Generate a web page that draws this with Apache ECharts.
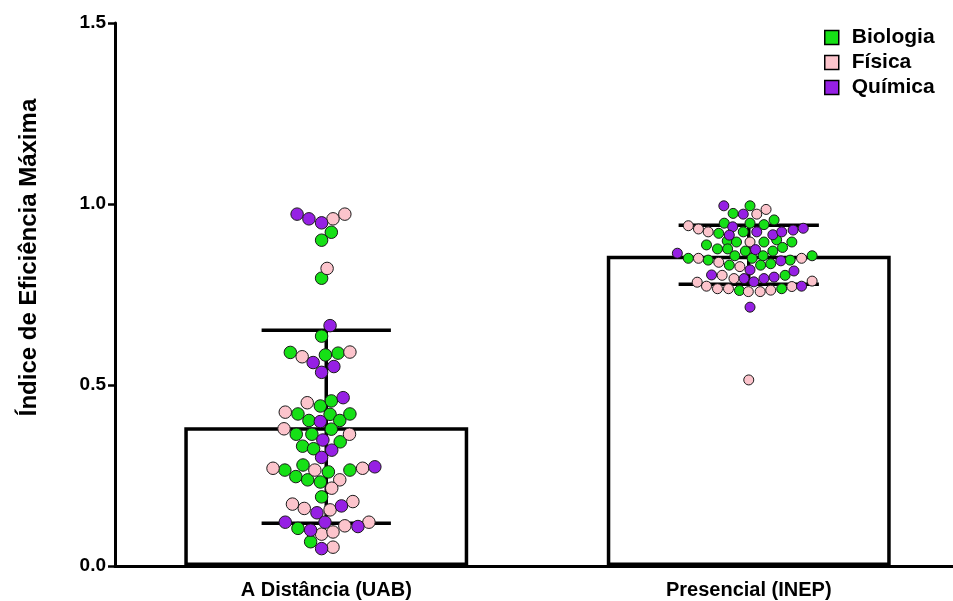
<!DOCTYPE html>
<html>
<head>
<meta charset="utf-8">
<script src="https://cdn.jsdelivr.net/npm/echarts@6/dist/echarts.min.js"></script>
<style>html,body{margin:0;padding:0;background:#fff}#c{width:953px;height:601px}</style>
</head>
<body>
<div id="c"></div>
<script>
var categories = ['A Distância (UAB)', 'Presencial (INEP)'];
var subjects = ['Biologia', 'Física', 'Química'];
var yTicks = [0, 0.5, 1.0, 1.5];
var means = [0.383, 0.857];
var lowerErr = [0.118, 0.778];
var upperErr = [0.651, 0.941];

// points: [beeswarm offset within category, value]
var distBio = [[0.012,0.922],[-0.011,0.900],[-0.011,0.795],[-0.011,0.635],[-0.085,0.590],[-0.002,0.583],[0.028,0.588],[-0.014,0.442],[0.012,0.456],[-0.067,0.420],[-0.041,0.402],[0.009,0.419],[0.032,0.402],[0.056,0.420],[-0.071,0.364],[-0.034,0.364],[0.012,0.378],[-0.056,0.331],[-0.030,0.324],[0.033,0.343],[-0.098,0.265],[-0.055,0.279],[0.005,0.260],[0.056,0.265],[-0.072,0.247],[-0.044,0.238],[-0.014,0.232],[-0.011,0.191],[-0.067,0.104],[-0.037,0.067]];
var distFis = [[0.016,0.959],[0.044,0.972],[0.002,0.822],[-0.057,0.578],[0.056,0.591],[-0.045,0.451],[-0.097,0.425],[-0.100,0.379],[0.055,0.364],[-0.126,0.270],[-0.027,0.265],[0.086,0.270],[0.032,0.238],[0.013,0.215],[-0.080,0.171],[-0.052,0.159],[0.009,0.155],[0.063,0.178],[0.044,0.111],[0.101,0.121],[-0.011,0.088],[0.016,0.094],[0.016,0.052]];
var distQui = [[-0.069,0.972],[-0.041,0.959],[-0.011,0.948],[0.009,0.664],[-0.031,0.562],[0.018,0.551],[-0.011,0.535],[0.040,0.465],[-0.014,0.399],[-0.008,0.348],[0.013,0.320],[-0.011,0.300],[0.115,0.274],[-0.022,0.147],[0.036,0.166],[-0.097,0.121],[-0.037,0.099],[-0.003,0.121],[0.075,0.109],[-0.011,0.048]];
var presBio = [[0.003,0.995],[-0.037,0.974],[-0.058,0.947],[0.003,0.947],[0.036,0.943],[0.060,0.956],[-0.071,0.919],[-0.013,0.923],[-0.051,0.898],[-0.029,0.895],[0.036,0.895],[0.066,0.901],[-0.100,0.887],[-0.074,0.876],[-0.050,0.876],[-0.008,0.870],[0.057,0.870],[0.080,0.880],[0.102,0.895],[-0.143,0.850],[-0.096,0.845],[-0.033,0.857],[0.008,0.850],[0.034,0.857],[0.150,0.857],[-0.046,0.831],[0.028,0.831],[0.052,0.835],[0.098,0.845],[0.086,0.803],[-0.022,0.761],[0.078,0.766]];
var presFis = [[0.019,0.972],[0.041,0.985],[-0.143,0.940],[-0.119,0.931],[-0.096,0.923],[0.003,0.895],[-0.119,0.850],[0.125,0.850],[-0.071,0.839],[-0.021,0.827],[-0.063,0.803],[-0.035,0.794],[-0.122,0.784],[-0.100,0.773],[-0.074,0.766],[-0.048,0.766],[-0.001,0.758],[0.027,0.758],[0.052,0.762],[0.102,0.772],[0.150,0.787],[0.000,0.514]];
var presQui = [[-0.059,0.995],[-0.013,0.972],[-0.038,0.937],[-0.046,0.914],[0.019,0.923],[0.057,0.915],[0.078,0.923],[0.105,0.928],[0.129,0.933],[0.016,0.874],[-0.169,0.864],[0.076,0.843],[0.003,0.818],[-0.088,0.804],[-0.011,0.794],[0.012,0.785],[0.036,0.794],[0.060,0.798],[0.107,0.815],[0.125,0.773],[0.003,0.715]];

var colors = ['#16e016', '#fcc4cc', '#9620e4'];
var groups = [[distBio, presBio], [distFis, presFis], [distQui, presQui]];

function place(pair) {
  var out = [];
  pair.forEach(function (arr, ci) {
    arr.forEach(function (p) { out.push([ci + p[0], p[1]]); });
  });
  return out;
}

var font = '"Liberation Sans", Arial, sans-serif';
var chart = echarts.init(document.getElementById('c'));

var scatterSeries = subjects.map(function (name, i) {
  return {
    name: name,
    type: 'scatter',
    xAxisIndex: 1,
    yAxisIndex: 0,
    z: 5,
    symbol: 'circle',
    symbolSize: function (val) { return val[0] < 0.5 ? 12.5 : 10; },
    itemStyle: { color: colors[i], borderColor: '#1a1a1a', borderWidth: 1, opacity: 1 },
    emphasis: { disabled: true },
    data: place(groups[i])
  };
});

var errData = categories.map(function (c, i) { return [i, means[i], lowerErr[i], upperErr[i]]; });

chart.setOption({
  animation: false,
  backgroundColor: '#fff',
  grid: { left: 115, top: 23, width: 845, height: 543, outerBoundsMode: 'none', containLabel: false },
  legend: {
    orient: 'vertical',
    left: 819,
    top: 22,
    icon: 'rect',
    itemWidth: 14,
    itemHeight: 14,
    itemGap: 4,
    itemStyle: { borderColor: '#000', borderWidth: 1.5 },
    textStyle: { fontFamily: font, fontWeight: 'bold', fontSize: 21, color: '#000', padding: [0, 0, 0, 8] },
    data: subjects
  },
  xAxis: [{
    type: 'category',
    data: categories,
    axisLine: { lineStyle: { color: '#000', width: 3 } },
    axisTick: { alignWithLabel: true, length: 7, lineStyle: { color: '#000', width: 2.5 } },
    axisLabel: { fontFamily: font, fontWeight: 'bold', fontSize: 20, color: '#000', margin: 14 }
  }, {
    type: 'value',
    min: -0.5,
    max: 1.5,
    show: false
  }],
  yAxis: {
    type: 'value',
    min: 0,
    max: 1.5,
    interval: 0.5,
    name: 'Índice de Eficiência Máxima',
    nameLocation: 'middle',
    nameGap: 74,
    nameTextStyle: { fontFamily: font, fontWeight: 'bold', fontSize: 24, color: '#000', padding: [0, 0, 0, 74] },
    splitLine: { show: false },
    axisLine: { show: true, onZero: false, lineStyle: { color: '#000', width: 3 } },
    axisTick: { show: true, length: 7, lineStyle: { color: '#000', width: 2.5 } },
    axisLabel: {
      fontFamily: font, fontWeight: 'bold', fontSize: 19, color: '#000', margin: 9,
      formatter: function (v) { return v.toFixed(1); }
    }
  },
  series: [{
    type: 'bar',
    xAxisIndex: 0,
    data: means,
    barWidth: '67.2%',
    z: 1,
    itemStyle: { color: '#fff', borderColor: '#000', borderWidth: 3.5 },
    emphasis: { disabled: true },
    silent: true
  }, {
    type: 'custom',
    xAxisIndex: 0,
    z: 3,
    silent: true,
    data: errData,
    renderItem: function (params, api) {
      var x = api.value(0);
      var lo = api.coord([x, api.value(2)]);
      var hi = api.coord([x, api.value(3)]);
      var band = api.size([1, 0])[0];
      var half = band * (x === 0 ? 0.153 : 0.166);
      var st = { stroke: '#000', lineWidth: 3.5, fill: null };
      return {
        type: 'group',
        children: [
          { type: 'line', shape: { x1: lo[0], y1: lo[1], x2: hi[0], y2: hi[1] }, style: st },
          { type: 'line', shape: { x1: lo[0] - half, y1: lo[1], x2: lo[0] + half, y2: lo[1] }, style: st },
          { type: 'line', shape: { x1: hi[0] - half, y1: hi[1], x2: hi[0] + half, y2: hi[1] }, style: st }
        ]
      };
    }
  }].concat(scatterSeries)
});
</script>
</body>
</html>
